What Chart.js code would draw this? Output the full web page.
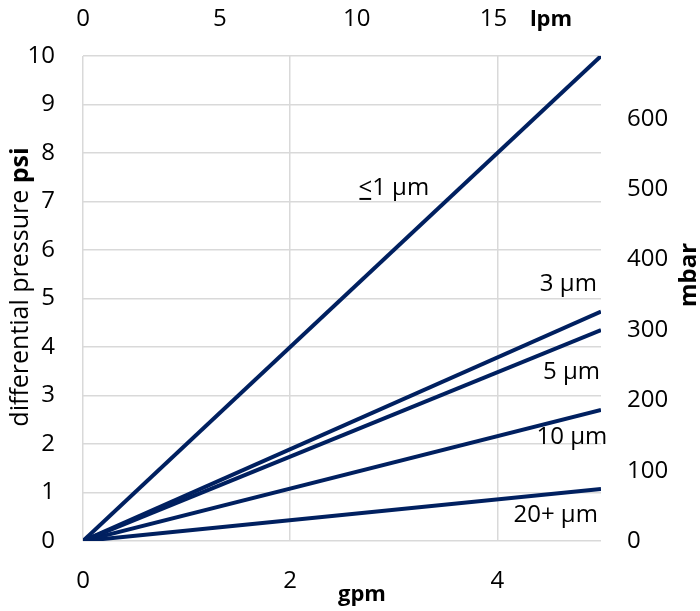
<!DOCTYPE html>
<html><head><meta charset="utf-8">
<script src="https://cdn.jsdelivr.net/npm/chart.js@4"></script>
<style>html,body{margin:0;padding:0;background:#fff}#wrap{width:700px;height:611px;position:relative}</style>
</head><body><div id="wrap"><canvas id="c"></canvas></div>
<script>
// ---- data ----
const seriesNames = ['<1 µm', '3 µm', '5 µm', '10 µm', '20+ µm'];
const flowGpm = [0, 5];
const dp1um = [0, 10];
const dp3um = [0, 4.73];
const dp5um = [0, 4.35];
const dp10um = [0, 2.70];
const dp20um = [0, 1.07];
const gpmTicks = [0, 2, 4];
const lpmTicks = [0, 5, 10, 15];
const psiTicks = [0, 1, 2, 3, 4, 5, 6, 7, 8, 9, 10];
const mbarTicks = [0, 100, 200, 300, 400, 500, 600];
const GPM_MAX = 5, PSI_MAX = 10;
const LPM_PER_GPM = 3.78541, MBAR_PER_PSI = 68.9476;

const COLOR = '#002060';
const GRID = '#d9d9d9';
const FONT = "'Open Sans', sans-serif";
const FS = 24;

const allSeries = [dp1um, dp3um, dp5um, dp10um, dp20um];
const datasets = allSeries.map((vals, i) => ({
  label: seriesNames[i],
  data: flowGpm.map((x, j) => ({x: x, y: vals[j]})),
  borderColor: COLOR,
  borderWidth: 4,
  pointRadius: 0,
  fill: false,
  tension: 0,
  xAxisID: 'x',
  yAxisID: 'y'
}));

// label anchors (data coords) + alignment
const labelPos = [
  {x: 3.0, y: 7.28, align: 'center'},
  {x: 4.96, y: 5.3, align: 'right'},
  {x: 4.99, y: 3.49, align: 'right'},
  {x: 5.06, y: 2.14, align: 'right'},
  {x: 4.97, y: 0.54, align: 'right'}
];

const textPlugin = {
  id: 'texts',
  afterDatasetsDraw(chart) {
    const ctx = chart.ctx;
    const xs = chart.scales.x, ys = chart.scales.y;
    ctx.save();
    ctx.fillStyle = '#000';
    ctx.textBaseline = 'middle';
    ctx.font = FS + 'px ' + FONT;
    seriesNames.forEach((name, i) => {
      const p = labelPos[i];
      const px = xs.getPixelForValue(p.x), py = ys.getPixelForValue(p.y);
      ctx.textAlign = p.align;
      ctx.fillText(name, px, py);
      if (i === 0) {
        // underline the "<" to form ≤
        const w = ctx.measureText(name).width;
        const lw = ctx.measureText('<').width;
        const left = p.align === 'center' ? px - w / 2 : px - w;
        ctx.fillRect(left + 1, py + 10, lw - 2, 2);
      }
    });
    // left axis title
    ctx.save();
    ctx.translate(21, 287);
    ctx.rotate(-Math.PI / 2);
    ctx.textAlign = 'left';
    const t1 = 'differential pressure ';
    const t2 = 'psi';
    ctx.font = '25px ' + FONT;
    const w1 = ctx.measureText(t1).width;
    ctx.font = 'bold 25px ' + FONT;
    const w2 = ctx.measureText(t2).width;
    const start = -(w1 + w2) / 2;
    ctx.font = '25px ' + FONT;
    ctx.fillText(t1, start, 0);
    ctx.font = 'bold 25px ' + FONT;
    ctx.fillText(t2, start + w1, 0);
    ctx.restore();
    // right axis title
    ctx.save();
    ctx.translate(689, 275);
    ctx.rotate(-Math.PI / 2);
    ctx.textAlign = 'center';
    ctx.font = 'bold 24px ' + FONT;
    ctx.fillText('mbar', 0, 0);
    ctx.restore();
    // bottom & top axis titles
    ctx.font = 'bold 22px ' + FONT;
    ctx.textAlign = 'center';
    ctx.fillText('gpm', 362, 595);
    ctx.fillText('lpm', 551, 20);
    ctx.restore();
  }
};

const tickFont = {family: FONT, size: FS};

new Chart(document.getElementById('c'), {
  type: 'line',
  data: {datasets},
  plugins: [textPlugin],
  options: {
    responsive: true,
    maintainAspectRatio: false,
    animation: false,
    layout: {padding: 0},
    plugins: {legend: {display: false}, tooltip: {enabled: false}},
    scales: {
      x: {
        type: 'linear', position: 'bottom', min: 0, max: GPM_MAX,
        afterBuildTicks(s) { s.ticks = gpmTicks.map(v => ({value: v})); },
        afterFit(s) { s.height = 70; },
        grid: {color: GRID, lineWidth: 1.5, drawTicks: false},
        border: {display: false},
        ticks: {font: tickFont, color: '#000', padding: 26, maxRotation: 0}
      },
      x2: {
        type: 'linear', position: 'top', min: 0, max: GPM_MAX * LPM_PER_GPM,
        afterBuildTicks(s) { s.ticks = lpmTicks.map(v => ({value: v})); },
        afterFit(s) { s.height = 56; },
        grid: {display: false, drawTicks: false},
        border: {display: false},
        ticks: {font: tickFont, color: '#000', padding: 22, maxRotation: 0}
      },
      y: {
        type: 'linear', position: 'left', min: 0, max: PSI_MAX,
        afterBuildTicks(s) { s.ticks = psiTicks.map(v => ({value: v})); },
        afterFit(s) { s.width = 83; },
        grid: {color: GRID, lineWidth: 1.5, drawTicks: false},
        border: {display: false},
        ticks: {font: tickFont, color: '#000', padding: 28}
      },
      y2: {
        type: 'linear', position: 'right', min: 0, max: PSI_MAX * MBAR_PER_PSI,
        afterBuildTicks(s) { s.ticks = mbarTicks.map(v => ({value: v})); },
        afterFit(s) { s.width = 99; },
        grid: {display: false, drawTicks: false},
        border: {display: false},
        ticks: {font: tickFont, color: '#000', padding: 26}
      }
    }
  }
});
</script>
</body></html>
